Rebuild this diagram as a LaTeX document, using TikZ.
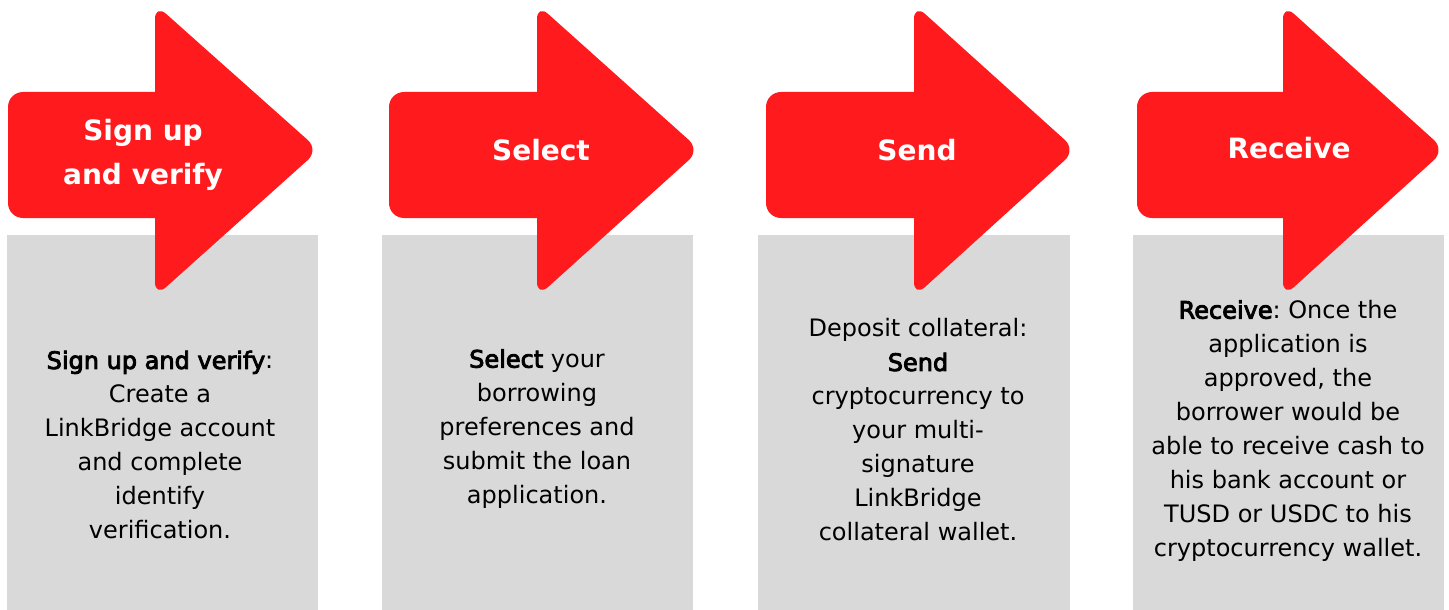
\documentclass[tikz,border=0pt]{standalone}
\usepackage{fontspec}
\setmainfont{DejaVu Sans}[BoldFont={DejaVu Sans}, BoldFeatures={FakeBold=3.5}]
\newfontfamily\headfont{DejaVu Sans Bold}
\definecolor{arrowred}{RGB}{255,26,29}
\definecolor{boxgray}{RGB}{217,217,217}
\tikzset{
  panel/.style={fill=boxgray, draw=none},
  arrowshape/.style={fill=arrowred, draw=none, rounded corners=15pt},
  headtext/.style={text=white, font=\headfont\fontsize{28}{44}\selectfont, align=center, inner sep=0pt},
  bodytext/.style={text=black, font=\frenchspacing\fontsize{24}{34}\selectfont, align=center, inner sep=0pt},
}
% #1 body left, #2 head x, #3 tip x
\newcommand{\bigarrow}[3]{%
  \fill[arrowshape] (#1,92) rectangle (#2+40,218);
  \fill[arrowshape] (#2,4) -- (#3+6,150) -- (#2,297) -- cycle;}
\begin{document}
\begin{tikzpicture}[x=1pt,y=-1pt]
\useasboundingbox (0,0) rectangle (1449,610);
% gray panels
\fill[panel] (7,235) rectangle (318,610);
\fill[panel] (382,235) rectangle (693,610);
\fill[panel] (758,235) rectangle (1070,610);
\fill[panel] (1133,235) rectangle (1444,610);
% arrows
\bigarrow{8}{155}{313}
\bigarrow{389}{537}{694}
\bigarrow{766}{914}{1070}
\bigarrow{1137}{1283}{1439}
% headers
\node[headtext] (h1) at (143,155) {Sign up\\and verify};
\node[headtext] (h2) at (541,150) {Select};
\node[headtext] (h3) at (917,150) {Send};
\node[headtext] (h4) at (1289,148) {Receive};
% bodies
\node[bodytext] (b1) at (160,445) {\textbf{Sign up and verify}:\\Create a\\LinkBridge account\\and complete\\identify\\verification.};
\node[bodytext] (b2) at (537,429) {\textbf{Select} your\\borrowing\\preferences and\\submit the loan\\application.};
\node[bodytext] (b3) at (918,430) {Deposit collateral:\\\textbf{Send}\\cryptocurrency to\\your multi-\\signature\\LinkBridge\\collateral wallet.};
\node[bodytext] (b4) at (1288,431) {\textbf{Receive}: Once the\\application is\\approved, the\\borrower would be\\able to receive cash to\\his bank account or\\TUSD or USDC to his\\cryptocurrency wallet.};
\end{tikzpicture}
\end{document}
